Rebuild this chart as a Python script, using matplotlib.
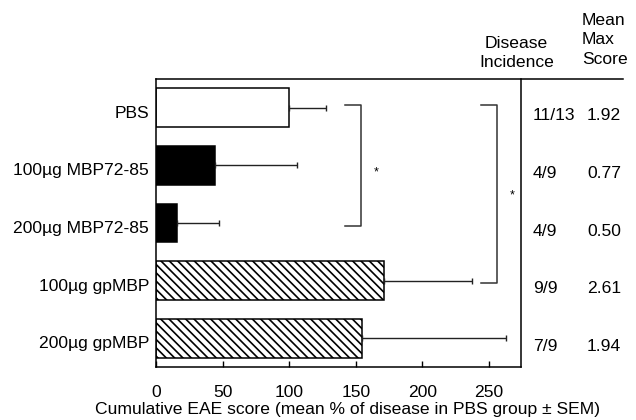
import matplotlib
matplotlib.use('Agg')
import matplotlib.pyplot as plt
import matplotlib.transforms as mtransforms
import numpy as np

plt.rcParams['font.family'] = ['Liberation Sans', 'DejaVu Sans']
plt.rcParams['hatch.linewidth'] = 1.2

groups = ['PBS', '100µg MBP72-85', '200µg MBP72-85', '100µg gpMBP', '200µg gpMBP']
scores = [100, 44.5, 15.5, 171, 155]
sem = [27.5, 61.5, 31.5, 66, 108]
incidence = ['11/13', '4/9', '4/9', '9/9', '7/9']
max_score = ['1.92', '0.77', '0.50', '2.61', '1.94']
# significance brackets: (first group, last group)
brackets = [(0, 2), (0, 3)]

fs = 12.6
fig = plt.figure(figsize=(6.36, 4.2), dpi=100)
ax = fig.add_axes([156 / 636, 1 - 367 / 420, 365 / 636, 288 / 420])

y = np.arange(len(groups))
faces = ['white', 'black', 'black', 'white', 'white']
hatches = [None, None, None, '\\\\\\\\', '\\\\\\\\']
for yi, v, fc, h in zip(y, scores, faces, hatches):
    ax.barh(yi, v, height=0.675, color=fc, edgecolor='black', linewidth=1.1, hatch=h)

ax.errorbar(scores, y, xerr=[np.zeros(len(y)), sem], fmt='none', ecolor='#222222',
            elinewidth=1.0, capsize=2.2, capthick=1.0)

# brackets + stars
bx = [(141.75, 153.75, 165, 1.13), (244.3, 256.3, 267.7, 1.53)]
for (g0, g1), (x0, x1, sx, sy) in zip(brackets, bx):
    ya, yb = y[g0] - 0.04, y[g1] + 0.05
    ax.plot([x0, x1, x1, x0], [ya, ya, yb, yb], color='#333333', lw=1.1)
    ax.text(sx, sy, '*', ha='center', va='center', fontsize=9)

ax.set_xlim(0, 274)
ax.set_ylim(len(groups) - 0.5, -0.5)
ax.set_xticks([0, 50, 100, 150, 200, 250])
ax.tick_params(axis='x', direction='in', length=4, width=1, pad=13, labelsize=fs)
ax.set_yticks(y)
ax.set_yticklabels(groups, fontsize=fs)
ax.tick_params(axis='y', length=0, pad=5)
ax.set_xlabel('Cumulative EAE score (mean % of disease in PBS group ± SEM)',
              fontsize=fs, labelpad=1)
ax.xaxis.set_label_coords(0.525, -0.122)

# labels sit slightly below bar centres in the original
down4 = mtransforms.ScaledTranslation(0, -4 / 100, fig.dpi_scale_trans)
for lab in ax.get_yticklabels():
    lab.set_transform(lab.get_transform() + down4)

for s in ['left', 'bottom', 'right']:
    ax.spines[s].set_linewidth(1.1)
ax.spines['top'].set_visible(False)
ax.plot([0, 1.279], [1, 1], transform=ax.transAxes, clip_on=False, color='black', lw=1.1)

down8 = mtransforms.ScaledTranslation(0, -8 / 100, fig.dpi_scale_trans)
trans = mtransforms.blended_transform_factory(ax.transAxes, ax.transData) + down8
for yi, inc, ms in zip(y, incidence, max_score):
    ax.text((533 - 156) / 365, yi, inc, transform=trans, ha='left', va='center', fontsize=fs)
    ax.text((587 - 156) / 365, yi, ms, transform=trans, ha='left', va='center', fontsize=fs)

fig.text(554 / 636, 1 - 53 / 420, 'Disease\nIncidence', ha='right', va='center',
         multialignment='center', fontsize=fs, linespacing=1.35)
fig.text(582 / 636, 1 - 40 / 420, 'Mean\nMax\nScore', ha='left', va='center',
         fontsize=fs, linespacing=1.35)

fig.savefig('out.png', dpi=100)
